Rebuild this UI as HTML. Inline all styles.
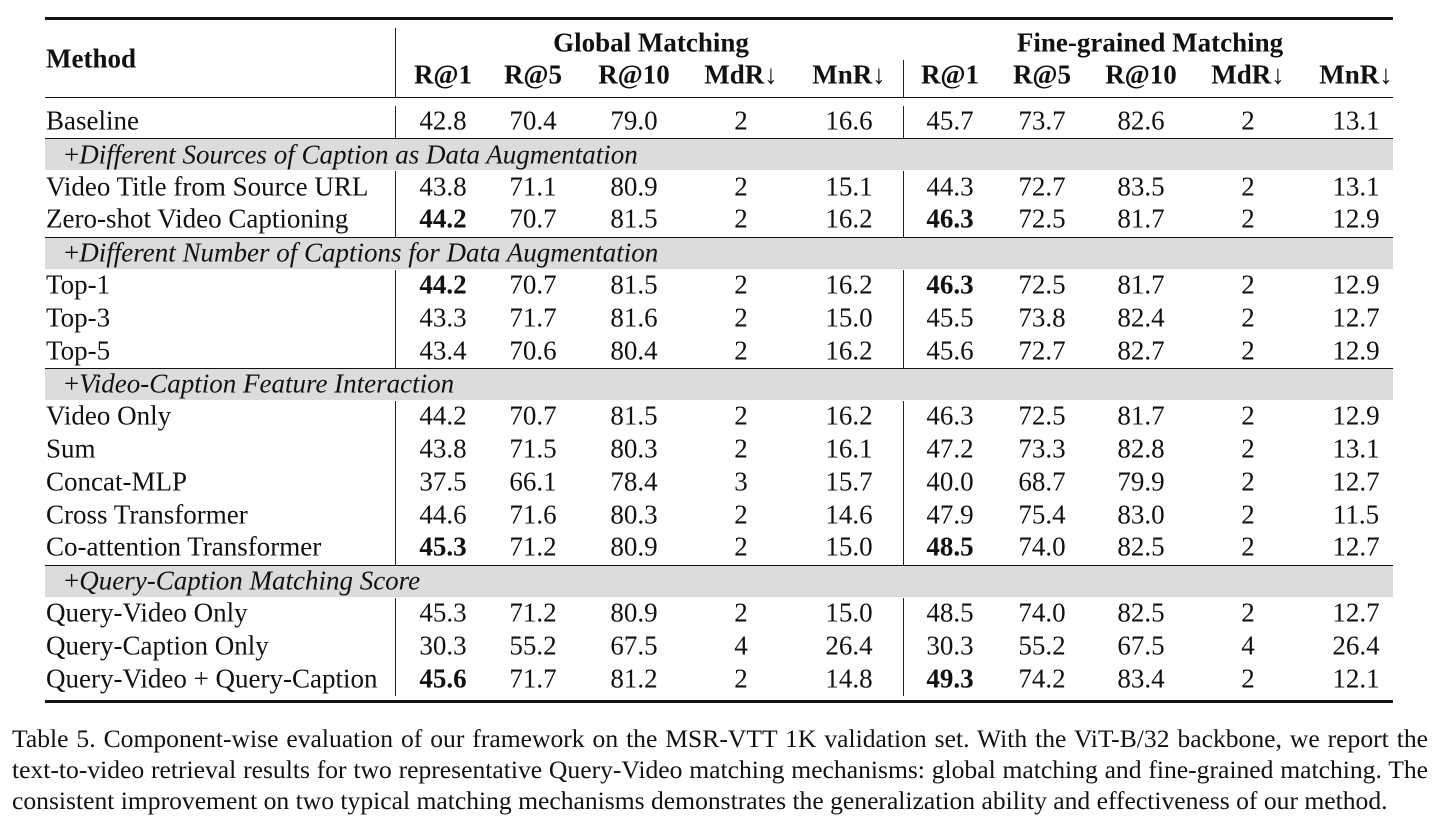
<!DOCTYPE html>
<html><head><meta charset="utf-8">
<style>
body{margin:0;width:1440px;height:825px;background:#fff;position:relative;overflow:hidden;font-family:"Liberation Serif","DejaVu Serif",serif;color:#111}
.t{position:absolute;font-size:27px;line-height:1;white-space:nowrap;transform:translate(-50%,-50%)}
.l{position:absolute;font-size:27px;line-height:1;white-space:nowrap;transform:translateY(-50%)}
.hr{position:absolute;left:45px;width:1348px;background:#111}
.vr{position:absolute;width:1.3px;background:#222}
.band{position:absolute;left:45px;width:1348px;background:#dcdcdc}
b{font-weight:bold}
.cap{position:absolute;left:12px;width:1416px;font-size:25.6px;line-height:31px;text-align:justify;text-align-last:justify;white-space:nowrap}
</style></head><body>
<div id="root"></div>
<script>
const colX=[443,533,634,741,849,950,1042,1141,1248,1356];
const headers=["R@1","R@5","R@10","MdR↓","MnR↓","R@1","R@5","R@10","MdR↓","MnR↓"];
const rows=[
["row","Baseline",["42.8","70.4","79.0","2","16.6","45.7","73.7","82.6","2","13.1"],[]],
["band","+Different Sources of Caption as Data Augmentation"],
["row","Video Title from Source URL",["43.8","71.1","80.9","2","15.1","44.3","72.7","83.5","2","13.1"],[]],
["row","Zero-shot Video Captioning",["44.2","70.7","81.5","2","16.2","46.3","72.5","81.7","2","12.9"],[0,5]],
["band","+Different Number of Captions for Data Augmentation"],
["row","Top-1",["44.2","70.7","81.5","2","16.2","46.3","72.5","81.7","2","12.9"],[0,5]],
["row","Top-3",["43.3","71.7","81.6","2","15.0","45.5","73.8","82.4","2","12.7"],[]],
["row","Top-5",["43.4","70.6","80.4","2","16.2","45.6","72.7","82.7","2","12.9"],[]],
["band","+Video-Caption Feature Interaction"],
["row","Video Only",["44.2","70.7","81.5","2","16.2","46.3","72.5","81.7","2","12.9"],[]],
["row","Sum",["43.8","71.5","80.3","2","16.1","47.2","73.3","82.8","2","13.1"],[]],
["row","Concat-MLP",["37.5","66.1","78.4","3","15.7","40.0","68.7","79.9","2","12.7"],[]],
["row","Cross Transformer",["44.6","71.6","80.3","2","14.6","47.9","75.4","83.0","2","11.5"],[]],
["row","Co-attention Transformer",["45.3","71.2","80.9","2","15.0","48.5","74.0","82.5","2","12.7"],[0,5]],
["band","+Query-Caption Matching Score"],
["row","Query-Video Only",["45.3","71.2","80.9","2","15.0","48.5","74.0","82.5","2","12.7"],[]],
["row","Query-Caption Only",["30.3","55.2","67.5","4","26.4","30.3","55.2","67.5","4","26.4"],[]],
["row","Query-Video + Query-Caption",["45.6","71.7","81.2","2","14.8","49.3","74.2","83.4","2","12.1"],[0,5]]
];
const root=document.getElementById('root');
function add(cls,css,html){const d=document.createElement('div');d.className=cls;d.style.cssText=css;if(html!==undefined)d.innerHTML=html;root.appendChild(d);return d;}
let e;
e=add('hr','top:17px;height:3px');


e=add('hr','top:97px;height:1.3px');


e=add('l','left:46px;top:59px','<b>Method</b>');


e=add('t','left:651px;top:43px','<b>Global Matching</b>');


e=add('t','left:1150px;top:43px','<b>Fine-grained Matching</b>');


e=add('vr','left:395px;top:28px;height:69px');


e=add('vr','left:903px;top:60px;height:37px');


headers.forEach((h,i)=>{
  const d=add('t','left:'+colX[i]+'px;top:75px','<b>'+h+'</b>');
  
  
});
let y=104.6;const rh=32.8;
rows.forEach((r,idx)=>{
  if(r[0]==='band'){
    const ln=add('hr','top:'+(y+1)+'px;height:1.3px');
    
    
    const b=add('band','top:'+(y+2)+'px;height:'+(rh-2)+'px');
    
    
    const t=add('l','left:64px;top:'+(y+rh/2+1)+'px','+<i>'+r[1].slice(1)+'</i>');
    
    
  } else {
    const cy=y+rh/2;
    const m=add('l','left:46px;top:'+cy+'px',r[1]);
    
    
    r[2].forEach((v,i)=>{
      const c=add('t','left:'+colX[i]+'px;top:'+cy+'px',r[3].includes(i)?'<b>'+v+'</b>':v);
      
      
    });
    [395,903].forEach(x=>{
      const v=add('vr','left:'+x+'px;top:'+(y+1)+'px;height:'+(rh+0.5)+'px');
      
      
    });
  }
  y+=rh;
});
e=add('hr','top:700px;height:3px');


</script>
<div class="cap" style="top:723px">Table 5. Component-wise evaluation of our framework on the MSR-VTT 1K validation set. With the ViT-B/32 backbone, we report the</div>
<div class="cap" style="top:754px">text-to-video retrieval results for two representative Query-Video matching mechanisms: global matching and fine-grained matching. The</div>
<div class="cap" style="top:785px;text-align-last:left">consistent improvement on two typical matching mechanisms demonstrates the generalization ability and effectiveness of our method.</div>
</body></html>
